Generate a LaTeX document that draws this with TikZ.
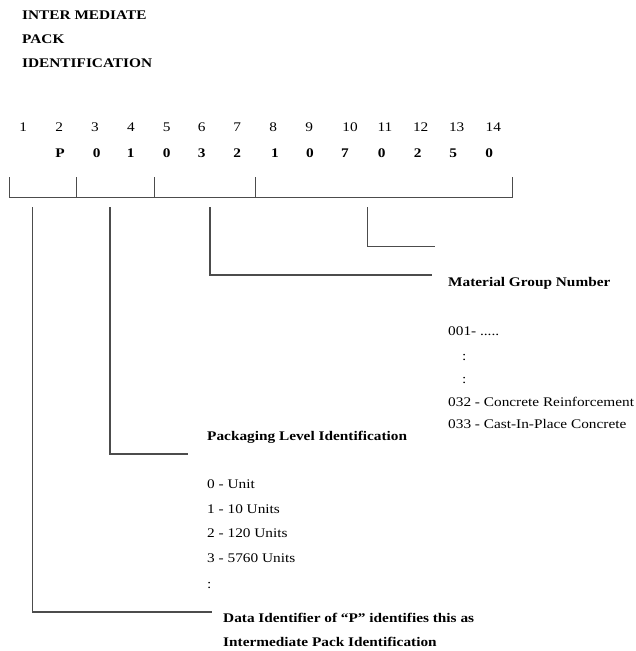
\documentclass[tikz,border=0pt]{standalone}
\usepackage{fontspec}
\setmainfont{Liberation Serif}[FakeStretch=1.16]
\usepackage{tikz}

\begin{document}
\begin{tikzpicture}[
            x=1pt, y=-1pt,
            lbl/.style={anchor=base west, inner sep=0pt,
                font=\fontsize{13.2}{15}\selectfont},
            hd/.style={lbl, font=\fontsize{13.2}{15}\selectfont\bfseries},
            posnum/.style={anchor=base, inner sep=0pt,
                font=\fontsize{13.2}{15}\selectfont},
            dig/.style={posnum, font=\fontsize{13.2}{15}\selectfont\bfseries},
            rule/.style={draw=black!70, line width=1.15pt}
        ]
        \useasboundingbox (0, 0) rectangle (635, 651);
        % title
        \node[hd] (t1) at (22, 19) {INTER MEDIATE};
        \node[hd] (t2) at (22, 43) {PACK};
        \node[hd] (t3) at (22, 67) {IDENTIFICATION};
        % positions
        \node[posnum] (n1)  at (23.3, 131) {1};
        \node[posnum] (n2)  at (59.3, 131) {2};
        \node[posnum] (n3)  at (95, 131) {3};
        \node[posnum] (n4)  at (131, 131) {4};
        \node[posnum] (n5)  at (166.7, 131) {5};
        \node[posnum] (n6)  at (201.7, 131) {6};
        \node[posnum] (n7)  at (237.3, 131) {7};
        \node[posnum] (n8)  at (273.3, 131) {8};
        \node[posnum] (n9)  at (309.3, 131) {9};
        \node[posnum] (n10) at (350, 131) {10};
        \node[posnum] (n11) at (385, 131) {11};
        \node[posnum] (n12) at (420.7, 131) {12};
        \node[posnum] (n13) at (456.7, 131) {13};
        \node[posnum] (n14) at (493.3, 131) {14};
        % code
        \node[dig] (d2)  at (60, 157) {P};
        \node[dig] (d3)  at (96.7, 157) {0};
        \node[dig] (d4)  at (130.7, 157) {1};
        \node[dig] (d5)  at (166.7, 157) {0};
        \node[dig] (d6)  at (201.7, 157) {3};
        \node[dig] (d7)  at (237.3, 157) {2};
        \node[dig] (d8)  at (275, 157) {1};
        \node[dig] (d9)  at (310, 157) {0};
        \node[dig] (d10) at (345, 157) {7};
        \node[dig] (d11) at (381.7, 157) {0};
        \node[dig] (d12) at (417.7, 157) {2};
        \node[dig] (d13) at (453.3, 157) {5};
        \node[dig] (d14) at (489.3, 157) {0};
        % bracket
        \coordinate (b0) at (9.3, 197.3);
        \coordinate (b1) at (76.7, 197.3);
        \coordinate (b2) at (154.3, 197.3);
        \coordinate (b3) at (255.7, 197.3);
        \coordinate (b4) at (512.7, 197.3);
        \draw[rule] (b0) -- (b4);
        \draw[rule] (b0) -- ++(0, -20);
        \draw[rule] (b1) -- ++(0, -20);
        \draw[rule] (b2) -- ++(0, -20);
        \draw[rule] (b3) -- ++(0, -20);
        \draw[rule] (b4) -- ++(0, -20);
        % leaders
        \coordinate (la) at (32.3, 207.3);
        \coordinate (lb) at (110, 207.3);
        \coordinate (lc) at (210, 207.3);
        \coordinate (ld) at (367.3, 207.3);
        \coordinate (ea) at (212, 612);
        \coordinate (eb) at (188, 454);
        \coordinate (ec) at (432, 275);
        \coordinate (ed) at (435, 246.7);
        \draw[rule] (la) |- (ea);
        \draw[rule] (lb) |- (eb);
        \draw[rule] (lc) |- (ec);
        \draw[rule] (ld) |- (ed);
        % material group
        \node[hd]  (mg)  at (448, 286) {Material Group Number};
        \node[lbl] (mg1) at (448, 335) {001- .....};
        \node[lbl] (mg2) at (462, 360) {:};
        \node[lbl] (mg3) at (462, 383) {:};
        \node[lbl] (mg4) at (448, 406) {032 - Concrete Reinforcement};
        \node[lbl] (mg5) at (448, 428) {033 - Cast-In-Place Concrete};
        % packaging level
        \node[hd]  (pk)  at (207, 440) {Packaging Level Identification};
        \node[lbl] (pk1) at (207, 488) {0 - Unit};
        \node[lbl] (pk2) at (207, 513) {1 - 10 Units};
        \node[lbl] (pk3) at (207, 537) {2 - 120 Units};
        \node[lbl] (pk4) at (207, 562) {3 - 5760 Units};
        \node[lbl] (pk5) at (207, 588) {:};
        % data identifier
        \node[hd] (di1) at (223, 622) {Data Identifier of ``P'' identifies this as};
        \node[hd] (di2) at (223, 646) {Intermediate Pack Identification};
    \end{tikzpicture}
\end{document}
